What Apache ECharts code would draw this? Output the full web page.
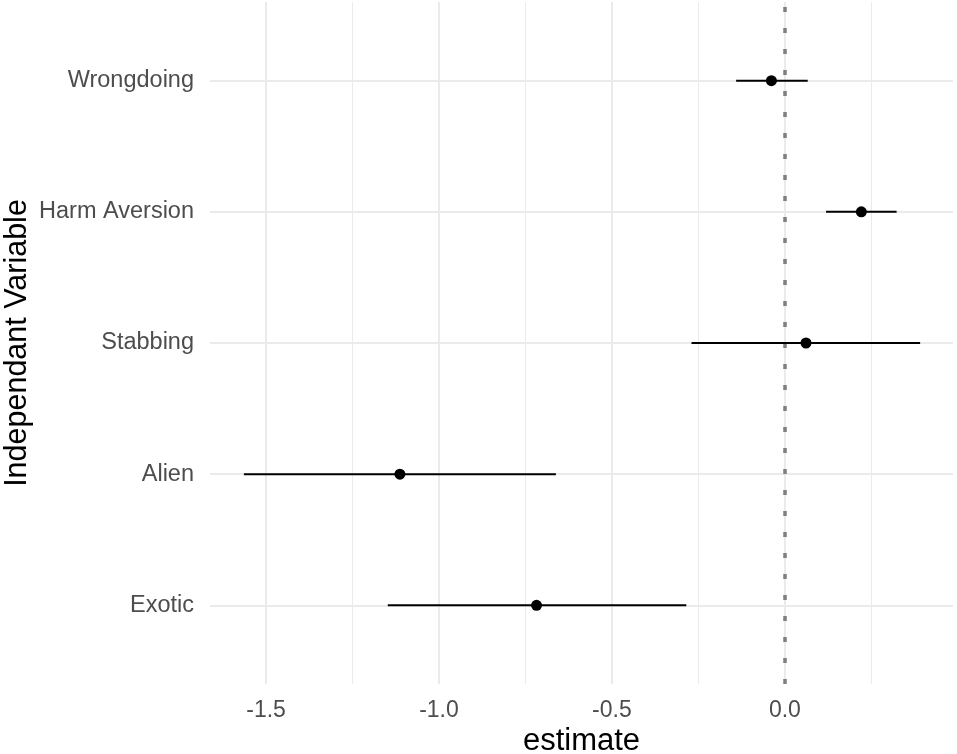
<!DOCTYPE html>
<html>
<head>
<meta charset="utf-8">
<script src="https://cdn.jsdelivr.net/npm/echarts@6/dist/echarts.min.js"></script>
<style>
  html, body { margin: 0; padding: 0; background: #fff; }
  #chart { width: 957px; height: 754px; }
</style>
</head>
<body>
<div id="chart"></div>
<script>
// categories from bottom (y = 1) to top (y = 5), ggplot order
const categories = ['Exotic', 'Alien', 'Stabbing', 'Harm Aversion', 'Wrongdoing'];
const estimates = [-0.718, -1.113, 0.061, 0.221, -0.039];
const lowerCI = [-1.148, -1.564, -0.270, 0.119, -0.141];
const upperCI = [-0.285, -0.662, 0.391, 0.323, 0.066];
const majorBreaks = [-1.5, -1.0, -0.5, 0.0];
const minorBreaks = [-1.25, -0.75, -0.25, 0.25];

const font = "'Liberation Sans', Arial, sans-serif";
const gridColor = '#EBEBEB';

/**
 * 把一组位置变成 markLine 的数据
 */
function vLines(values, width) {
  return values.map(v => ({ xAxis: v, lineStyle: { color: gridColor, width: width, type: 'solid' } }));
}
function hLines(values, width) {
  return values.map(v => ({ yAxis: v, lineStyle: { color: gridColor, width: width, type: 'solid' } }));
}

const rowPos = categories.map((c, i) => i + 1);

const chart = echarts.init(document.getElementById('chart'), null, { renderer: 'canvas' });

// 每个变量一条置信区间线（markLine 默认 z 为 5，这里要压在它上面）
const ciSeries = categories.map((c, i) => ({
  name: c,
  type: 'line',
  z: 10,
  silent: true,
  showSymbol: false,
  symbol: 'none',
  lineStyle: { color: '#000', width: 2 },
  data: [[lowerCI[i], rowPos[i]], [upperCI[i], rowPos[i]]]
}));

let option = {
  backgroundColor: '#ffffff',
  animation: false,
  textStyle: { fontFamily: font },
  grid: { left: 210, right: 4, top: 2, bottom: 70, containLabel: false, outerBoundsMode: 'none' },
  xAxis: {
    type: 'value',
    min: -1.662,
    max: 0.486,
    name: 'estimate',
    nameLocation: 'middle',
    nameGap: 42,
    nameMoveOverlap: false,
    nameTextStyle: { fontSize: 31, color: '#000', fontFamily: font },
    axisLine: { show: false },
    axisTick: { show: false },
    splitLine: { show: false },
    axisLabel: {
      margin: 15,
      fontSize: 23,
      color: '#4D4D4D',
      fontFamily: font,
      formatter: v => {
        const k = Math.round(v * 2);
        if (Math.abs(v * 2 - k) > 1e-6) return '';
        return (k / 2).toFixed(1);
      }
    }
  },
  yAxis: {
    type: 'value',
    min: 0.4,
    max: 5.6,
    interval: 0.2,
    name: 'Independant Variable',
    nameLocation: 'middle',
    nameGap: 177,
    nameMoveOverlap: false,
    nameTextStyle: { fontSize: 30.5, color: '#000', fontFamily: font },
    axisLine: { show: false },
    axisTick: { show: false },
    splitLine: { show: false },
    axisLabel: {
      margin: 16,
      fontSize: 23.5,
      color: '#4D4D4D',
      fontFamily: font,
      formatter: v => {
        const i = Math.round(v);
        if (Math.abs(v - i) > 1e-6 || i < 1 || i > 5) return '';
        return categories[i - 1];
      }
    }
  },
  series: [
    {
      // 背景网格线
      type: 'line',
      data: [],
      z: 1,
      silent: true,
      markLine: {
        z: 1,
        silent: true,
        symbol: ['none', 'none'],
        label: { show: false },
        emphasis: { disabled: true },
        animation: false,
        data: [
          ...vLines(minorBreaks, 1),
          ...vLines(majorBreaks, 2),
          ...hLines(rowPos, 2)
        ]
      }
    },
    {
      // 0 处的虚线
      type: 'line',
      data: [],
      z: 2,
      silent: true,
      markLine: {
        z: 2,
        silent: true,
        symbol: ['none', 'none'],
        label: { show: false },
        emphasis: { disabled: true },
        animation: false,
        data: [{ xAxis: 0, lineStyle: { color: '#7F7F7F', width: 3.5, type: [5, 16] } }]
      }
    },
    ...ciSeries,
    {
      type: 'scatter',
      z: 11,
      silent: true,
      symbol: 'circle',
      symbolSize: 11,
      itemStyle: { color: '#000', opacity: 1 },
      data: categories.map((c, i) => [estimates[i], rowPos[i]])
    }
  ]
};

chart.setOption(option);
</script>
</body>
</html>
